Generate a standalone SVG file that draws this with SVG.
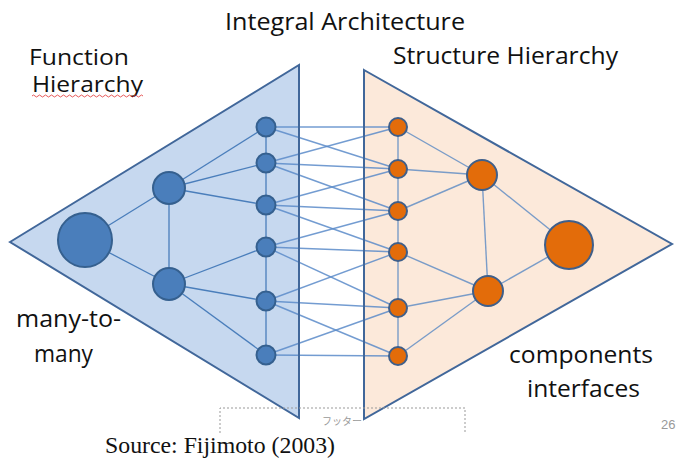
<svg xmlns="http://www.w3.org/2000/svg" width="678" height="458" viewBox="0 0 678 458">
<style>
.lbl{font-family:"Open Sans","Liberation Sans",sans-serif;font-size:23px;fill:#111}
.sm{font-size:21px}
.tri{stroke:#41679A;stroke-width:2}
.e{stroke:#4A7EBB;stroke-width:1.3;fill:none}
.x{stroke:#5B8BC9;stroke-width:1.4;fill:none;opacity:0.85}
.oe{stroke:#7A9CC8;stroke-width:1.4;fill:none}
.bn{fill:#4A7EBB;stroke:#35608F;stroke-width:2}
.on{fill:#E36C0A;stroke:#3F5F8A;stroke-width:2}
</style>
<rect width="678" height="458" fill="#fff"/>
<g id="triangles">
<polygon class="tri" points="10,242 299,65 299,418" fill="#C6D8EF"/>
<polygon class="tri" points="364,70 672,244 364,419" fill="#FCE9DA"/>
</g>
<g id="connectors">
<line class="e" x1="85" y1="240" x2="169" y2="188"/>
<line class="e" x1="85" y1="240" x2="169" y2="284"/>
<line class="e" x1="169" y1="188" x2="169" y2="284"/>
<line class="e" x1="169" y1="188" x2="266" y2="127"/>
<line class="e" x1="169" y1="188" x2="266" y2="163"/>
<line class="e" x1="169" y1="188" x2="266" y2="205"/>
<line class="e" x1="169" y1="284" x2="266" y2="247"/>
<line class="e" x1="169" y1="284" x2="266" y2="301"/>
<line class="e" x1="169" y1="284" x2="266" y2="355"/>
<line class="e" x1="266" y1="127" x2="266" y2="355"/>
<line class="oe" x1="398" y1="127" x2="398" y2="356"/>
<line class="oe" x1="482" y1="175" x2="398" y2="127"/>
<line class="oe" x1="482" y1="175" x2="398" y2="169"/>
<line class="oe" x1="482" y1="175" x2="398" y2="211"/>
<line class="oe" x1="482" y1="175" x2="488" y2="291"/>
<line class="oe" x1="482" y1="175" x2="569" y2="245"/>
<line class="oe" x1="488" y1="291" x2="569" y2="245"/>
<line class="oe" x1="488" y1="291" x2="398" y2="252"/>
<line class="oe" x1="488" y1="291" x2="398" y2="308"/>
<line class="oe" x1="488" y1="291" x2="398" y2="356"/>
<line class="x" x1="266" y1="127" x2="398" y2="127"/>
<line class="x" x1="266" y1="127" x2="398" y2="169"/>
<line class="x" x1="266" y1="163" x2="398" y2="127"/>
<line class="x" x1="266" y1="163" x2="398" y2="169"/>
<line class="x" x1="266" y1="163" x2="398" y2="211"/>
<line class="x" x1="266" y1="205" x2="398" y2="169"/>
<line class="x" x1="266" y1="205" x2="398" y2="211"/>
<line class="x" x1="266" y1="205" x2="398" y2="252"/>
<line class="x" x1="266" y1="247" x2="398" y2="211"/>
<line class="x" x1="266" y1="247" x2="398" y2="252"/>
<line class="x" x1="266" y1="247" x2="398" y2="308"/>
<line class="x" x1="266" y1="301" x2="398" y2="252"/>
<line class="x" x1="266" y1="301" x2="398" y2="308"/>
<line class="x" x1="266" y1="301" x2="398" y2="356"/>
<line class="x" x1="266" y1="355" x2="398" y2="308"/>
<line class="x" x1="266" y1="355" x2="398" y2="356"/>
</g>
<g id="tri-edges" fill="none" stroke="#41679A" stroke-width="2">
<line x1="299" y1="65" x2="299" y2="418"/>
<line x1="364" y1="70" x2="364" y2="419"/>
</g>
<g id="f-root"><circle class="bn" cx="85" cy="240" r="27"/></g>
<g id="f-mid1"><circle class="bn" cx="169" cy="188" r="16"/></g>
<g id="f-mid2"><circle class="bn" cx="169" cy="284" r="16"/></g>
<g id="f1"><circle class="bn" cx="266" cy="127" r="9.5" fill="#5A90D6"/></g>
<g id="f2"><circle class="bn" cx="266" cy="163" r="9.5"/></g>
<g id="f3"><circle class="bn" cx="266" cy="205" r="9.5"/></g>
<g id="f4"><circle class="bn" cx="266" cy="247" r="9.5"/></g>
<g id="f5"><circle class="bn" cx="266" cy="301" r="9.5"/></g>
<g id="f6"><circle class="bn" cx="266" cy="355" r="9.5"/></g>
<g id="s1"><circle class="on" cx="398" cy="127" r="9"/></g>
<g id="s2"><circle class="on" cx="398" cy="169" r="9"/></g>
<g id="s3"><circle class="on" cx="398" cy="211" r="9"/></g>
<g id="s4"><circle class="on" cx="398" cy="252" r="9"/></g>
<g id="s5"><circle class="on" cx="398" cy="308" r="9"/></g>
<g id="s6"><circle class="on" cx="398" cy="356" r="9"/></g>
<g id="s-mid1"><circle class="on" cx="482" cy="175" r="15"/></g>
<g id="s-mid2"><circle class="on" cx="488" cy="291" r="15"/></g>
<g id="s-root"><circle class="on" cx="569" cy="245" r="24"/></g>
<g id="footer">
<path d="M220,433 V408 H465 V433" fill="none" stroke="#999" stroke-width="1" stroke-dasharray="2,2"/>
<text x="342" y="425" text-anchor="middle" font-family="'Noto Sans CJK JP',sans-serif" font-size="10" fill="#999">フッター</text>
<text x="661" y="429" font-family="'Liberation Sans',sans-serif" font-size="13" fill="#999">26</text>
</g>
<g id="labels">
<text class="lbl" x="225" y="30" textLength="240" lengthAdjust="spacingAndGlyphs">Integral Architecture</text>
<text class="lbl sm" x="29" y="65" textLength="100" lengthAdjust="spacingAndGlyphs">Function</text>
<text class="lbl sm" x="32" y="92" textLength="111" lengthAdjust="spacingAndGlyphs">Hierarchy</text>
<path d="M32,96 q1.5,-2 3,0 t3,0 t3,0 t3,0 t3,0 t3,0 t3,0 t3,0 t3,0 t3,0 t3,0 t3,0 t3,0 t3,0 t3,0 t3,0 t3,0 t3,0 t3,0 t3,0 t3,0 t3,0 t3,0 t3,0 t3,0 t3,0 t3,0 t3,0 t3,0 t3,0 t3,0 t3,0 t3,0 t3,0 t3,0 t3,0 t3,0" fill="none" stroke="#E03030" stroke-width="0.8"/>
<text class="lbl" x="393" y="64" textLength="225" lengthAdjust="spacingAndGlyphs">Structure Hierarchy</text>
<text class="lbl" x="16" y="327" textLength="105" lengthAdjust="spacingAndGlyphs">many-to-</text>
<text class="lbl" x="34" y="362" textLength="59" lengthAdjust="spacingAndGlyphs">many</text>
<text class="lbl" x="509" y="363" textLength="144" lengthAdjust="spacingAndGlyphs">components</text>
<text class="lbl" x="527" y="397" textLength="113" lengthAdjust="spacingAndGlyphs">interfaces</text>
<text x="105" y="453" font-family="'Liberation Serif',serif" font-size="23" fill="#111" textLength="230" lengthAdjust="spacingAndGlyphs">Source: Fijimoto (2003)</text>
</g>
</svg>
